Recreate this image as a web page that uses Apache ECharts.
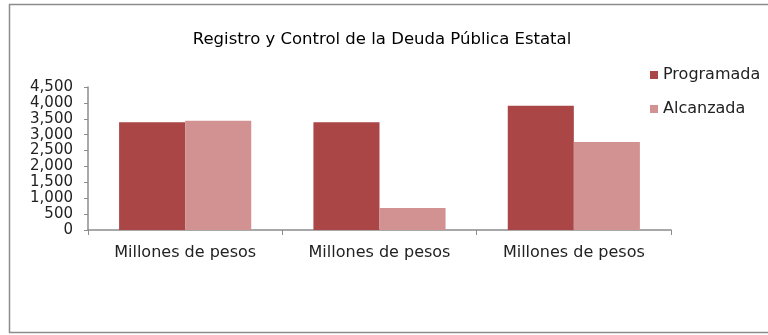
<!DOCTYPE html>
<html>
<head>
<meta charset="utf-8">
<script src="https://cdn.jsdelivr.net/npm/echarts@6/dist/echarts.min.js"></script>
<style>
  html, body { margin: 0; padding: 0; background: #fff; }
  #chart { width: 768px; height: 335px; }
</style>
</head>
<body>
<div id="chart"></div>
<script>
// datos
const categorias = ['Millones de pesos', 'Millones de pesos', 'Millones de pesos'];
const programada = [3390, 3390, 3910];
const alcanzada = [3440, 690, 2770];
const etiquetasY = [0, 500, 1000, 1500, 2000, 2500, 3000, 3500, 4000, 4500];

const chart = echarts.init(document.getElementById('chart'));
const fuente = '"DejaVu Sans", sans-serif';

const option = {
  animation: false,
  title: {
    text: 'Registro y Control de la Deuda Pública Estatal',
    left: 377,
    textAlign: 'center',
    top: 26,
    textStyle: { fontFamily: fuente, fontSize: 16.5, fontWeight: 'normal', color: '#000' },
  },
  graphic: [{
    type: 'rect',
    shape: { x: 9.5, y: 4.5, width: 770, height: 328 },
    style: { fill: 'none', stroke: '#8c8c8c', lineWidth: 1.5 },
    silent: true,
  }],
  legend: {
    orient: 'vertical',
    left: 650,
    top: 67,
    padding: 0,
    itemWidth: 8,
    itemHeight: 8,
    itemGap: 18,
    icon: 'rect',
    textStyle: { fontFamily: fuente, fontSize: 16, color: '#222' },
    data: ['Programada', 'Alcanzada'],
  },
  grid: {
    left: 88,
    top: 87,
    width: 583,
    height: 143,
  },
  xAxis: {
    type: 'category',
    data: categorias,
    axisLine: { lineStyle: { color: '#8c8c8c', width: 1.5 } },
    axisTick: { show: true, length: 5, lineStyle: { color: '#8c8c8c' } },
    axisLabel: { fontFamily: fuente, fontSize: 16, color: '#222', margin: 15 },
  },
  yAxis: {
    type: 'value',
    min: 0,
    max: 4500,
    interval: 500,
    splitLine: { show: false },
    axisLine: { show: true, lineStyle: { color: '#8c8c8c', width: 1.5 } },
    axisTick: { show: true, length: 4, lineStyle: { color: '#8c8c8c' } },
    axisLabel: {
      fontFamily: fuente,
      fontSize: 15,
      color: '#222',
      margin: 15,
      lineHeight: 13,
      formatter: (v) => v.toLocaleString('en-US'),
    },
  },
  series: [
    {
      name: 'Programada',
      type: 'bar',
      data: programada,
      barGap: '0%',
      barCategoryGap: '32%',
      itemStyle: { color: '#aa4646' },
    },
    {
      name: 'Alcanzada',
      type: 'bar',
      data: alcanzada,
      itemStyle: { color: '#d39292' },
    },
  ],
};

chart.setOption(option);
</script>
</body>
</html>
